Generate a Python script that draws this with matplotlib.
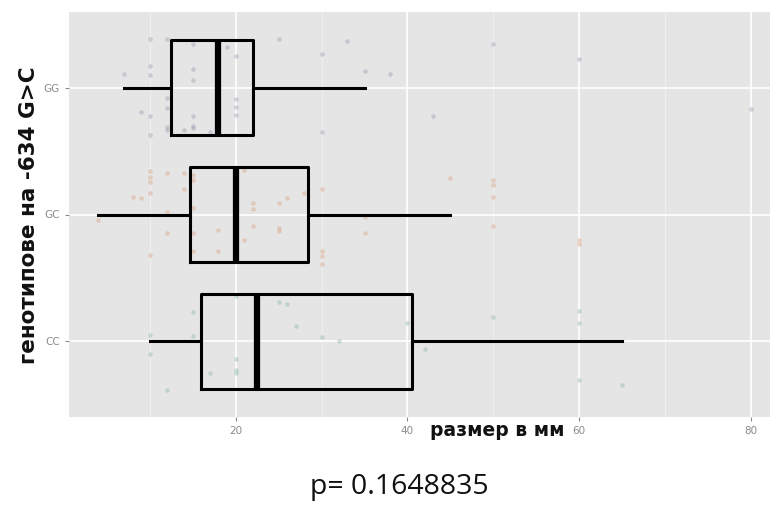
import matplotlib
matplotlib.use("Agg")
import matplotlib.pyplot as plt
import numpy as np

# ---- data ----
genotypes = ["CC", "GC", "GG"]
x_ticks = [20, 40, 60, 80]

# box statistics (whislo, q1, med, q3, whishi)
cc_stats = [10, 16.0, 22.5, 40.5, 65]
gc_stats = [4, 14.7, 20, 28.4, 45]
gg_stats = [7, 12.5, 18, 22, 35]

# jittered points: size values and vertical jitter offsets
gg_x = [10, 12, 15, 19, 20, 25, 30, 33, 7, 10, 10, 15, 15, 35, 38, 12, 12, 20, 20, 20,
        9, 10, 15, 15, 15, 12, 12, 14, 10, 30, 43, 17, 50, 60, 80]
gg_dy = [0.39, 0.39, 0.35, 0.32, 0.25, 0.39, 0.27, 0.37, 0.11, 0.17, 0.10, 0.15, 0.06, 0.13,
         0.11, -0.08, -0.16, -0.09, -0.15, -0.21, -0.19, -0.22, -0.22, -0.30, -0.32, -0.31,
         -0.33, -0.33, -0.37, -0.35, -0.22, -0.35, 0.35, 0.23, -0.17]

gc_x = [10, 10, 10, 12, 14, 15, 15, 14, 10, 8, 9, 21, 30, 28, 26, 25, 22, 22, 15, 4, 12,
        35, 22, 18, 25, 25, 12, 15, 21, 35, 18, 15, 10, 30, 30, 30, 45, 50, 50, 50, 50, 60, 60]
gc_dy = [0.34, 0.30, 0.26, 0.33, 0.33, 0.31, 0.27, 0.20, 0.17, 0.14, 0.13, 0.35, 0.20, 0.17,
         0.13, 0.09, 0.09, 0.04, 0.05, -0.04, 0.02, -0.02, -0.09, -0.12, -0.11, -0.13, -0.15,
         -0.15, -0.20, -0.15, -0.29, -0.29, -0.32, -0.29, -0.33, -0.39, 0.29, 0.27, 0.23, 0.14,
         -0.09, -0.20, -0.23]

cc_x = [20, 25, 26, 15, 27, 10, 15, 30, 32, 40, 42, 10, 20, 20, 20, 17, 12, 50, 60, 60, 60, 65]
cc_dy = [0.36, 0.31, 0.29, 0.23, 0.12, 0.05, 0.04, 0.03, 0.00, 0.14, -0.06, -0.10, -0.14,
         -0.23, -0.25, -0.25, -0.39, 0.19, 0.24, 0.14, -0.31, -0.35]

y_label = "генотипове на -634 G>C"
x_label = "размер в мм"
p_text = "p= 0.1648835"

# ---- figure ----
fig = plt.figure(figsize=(7.7, 5.2), dpi=100)
ax = fig.add_axes([69 / 770, 1 - 417 / 520, (770 - 69) / 770, (417 - 12) / 520])
ax.set_facecolor("#e5e5e5")

# grid
for v in [10, 30, 50, 70]:
    ax.axvline(v, color="#f2f2f2", lw=0.6, zorder=0)
for v in x_ticks:
    ax.axvline(v, color="white", lw=1.2, zorder=0)
for v in [1, 2, 3]:
    ax.axhline(v, color="white", lw=1.2, zorder=0)

# points
point_sets = [(cc_x, cc_dy, 1, "#7fae9e"), (gc_x, gc_dy, 2, "#d8966e"), (gg_x, gg_dy, 3, "#8d90a6")]
for xs, dys, pos, col in point_sets:
    ax.scatter(xs, [pos + d for d in dys], s=11, color=col, alpha=0.35, lw=0, zorder=1)

# boxes
stats = []
for st, lab in zip([cc_stats, gc_stats, gg_stats], genotypes):
    stats.append(dict(whislo=st[0], q1=st[1], med=st[2], q3=st[3], whishi=st[4], label=lab, fliers=[]))
ax.bxp(stats, positions=[1, 2, 3], vert=False, widths=0.75, showfliers=False, showcaps=False,
       patch_artist=False, manage_ticks=False,
       boxprops=dict(color="black", lw=2.2),
       whiskerprops=dict(color="black", lw=2.2),
       medianprops=dict(color="black", lw=4.5, solid_capstyle="butt"),
       zorder=3)

ax.set_xlim(0.6, 82.2)
ax.set_ylim(0.4, 3.6)
ax.set_xticks(x_ticks)
ax.set_yticks([1, 2, 3])
ax.set_yticklabels(genotypes)
ax.tick_params(axis="both", colors="#8a8a8a", labelcolor="#8a8a8a", labelsize=7.5, length=3, width=0.8)
for s in ax.spines.values():
    s.set_visible(False)

fig.text(29 / 770, 1 - 215 / 520, y_label, rotation=90, ha="center", va="center",
         fontsize=15.5, fontweight="bold", color="#111111")
fig.text(497 / 770, 1 - 430 / 520, x_label, ha="center", va="center",
         fontsize=13.5, fontweight="bold", color="#111111")
fig.text(399 / 770, 1 - 487 / 520, p_text, ha="center", va="center",
         fontsize=20.5, family="Open Sans", color="#111111")

fig.savefig("out.png", dpi=100)
